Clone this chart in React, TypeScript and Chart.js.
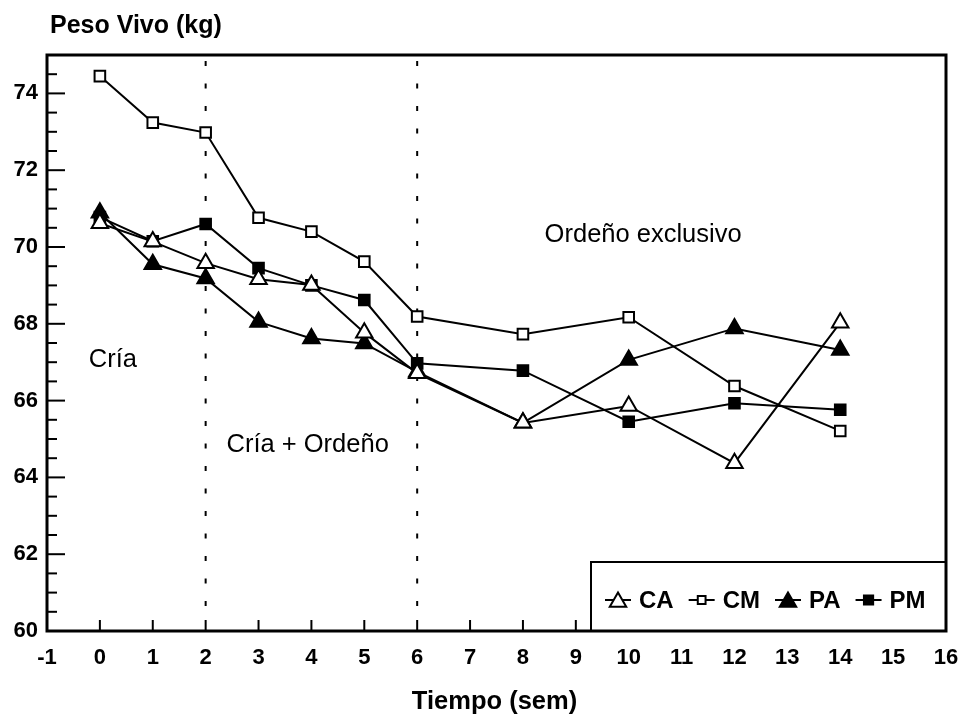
import React, { useEffect, useRef } from 'react';
import { Chart, registerables } from 'chart.js';

Chart.register(...registerables);

// ---- data ----
const weeks = [0, 1, 2, 3, 4, 5, 6, 8, 10, 12, 14];
const seriesNames = ['CA', 'CM', 'PA', 'PM'];
const caValues = [70.62, 70.14, 69.58, 69.16, 69.01, 67.77, 66.71, 65.42, 65.86, 64.37, 68.03];
const cmValues = [74.45, 73.24, 72.98, 70.76, 70.4, 69.62, 68.19, 67.73, 68.17, 66.38, 65.21];
const paValues = [70.89, 69.55, 69.18, 68.05, 67.62, 67.49, 66.75, 65.42, 67.06, 67.88, 67.32];
const pmValues = [70.78, 70.15, 70.6, 69.45, 69.0, 68.62, 66.97, 66.78, 65.45, 65.93, 65.76];
const xTickValues = [-1, 0, 1, 2, 3, 4, 5, 6, 7, 8, 9, 10, 11, 12, 13, 14, 15, 16];
const yTickValues = [60, 62, 64, 66, 68, 70, 72, 74];
const phaseLines = [2, 6];
const annotationTexts = ['Cría', 'Cría + Ordeño', 'Ordeño exclusivo'];
const annotationX = [-0.21, 2.395, 8.41];
const annotationY = [67.06, 64.84, 70.31];
const yTitle = 'Peso Vivo (kg)';
const xTitle = 'Tiempo (sem)';

const FONT = '"Liberation Sans", Arial, Helvetica, sans-serif';

const valuesBySeries = [caValues, cmValues, paValues, pmValues];
const styleBySeries = [
  { pointStyle: 'triangle', fill: '#ffffff', radius: 9.5, legendRadius: 9.5 },
  { pointStyle: 'rect', fill: '#ffffff', radius: 7.5, legendRadius: 5.5 },
  { pointStyle: 'triangle', fill: '#000000', radius: 9.5, legendRadius: 9.5 },
  { pointStyle: 'rect', fill: '#000000', radius: 7.5, legendRadius: 6.5 },
];

function drawMarker(ctx: CanvasRenderingContext2D, style: string, fill: string, r: number, cx: number, cy: number) {
  ctx.beginPath();
  if (style === 'triangle') {
    ctx.moveTo(cx, cy - r);
    ctx.lineTo(cx + r * Math.sin((2 * Math.PI) / 3), cy + r / 2);
    ctx.lineTo(cx - r * Math.sin((2 * Math.PI) / 3), cy + r / 2);
    ctx.closePath();
  } else {
    const s = r * Math.SQRT1_2;
    ctx.rect(cx - s, cy - s, 2 * s, 2 * s);
  }
  ctx.fillStyle = fill;
  ctx.fill();
  ctx.lineWidth = 2;
  ctx.strokeStyle = '#000';
  ctx.stroke();
}

const decorPlugin = {
  id: 'decor',
  beforeDatasetsDraw(chart: any) {
    const { ctx, chartArea, scales } = chart;
    const { top, bottom } = chartArea;
    const xs = scales.x;
    const ys = scales.y;
    ctx.save();
    ctx.strokeStyle = '#000';
    ctx.lineWidth = 2;
    ctx.setLineDash([5, 17.5]);
    phaseLines.forEach((v) => {
      const px = xs.getPixelForValue(v);
      ctx.beginPath();
      ctx.moveTo(px, bottom - 25);
      ctx.lineTo(px, top);
      ctx.stroke();
    });
    ctx.setLineDash([]);
    ctx.fillStyle = '#000';
    ctx.font = `25.5px ${FONT}`;
    ctx.textAlign = 'left';
    ctx.textBaseline = 'middle';
    annotationTexts.forEach((t, i) => {
      ctx.fillText(t, xs.getPixelForValue(annotationX[i]), ys.getPixelForValue(annotationY[i]));
    });
    ctx.restore();
  },
  afterDraw(chart: any) {
    const { ctx, chartArea, scales } = chart;
    const { left, right, top, bottom } = chartArea;
    const xs = scales.x;
    const ys = scales.y;
    ctx.save();
    ctx.strokeStyle = '#000';
    ctx.setLineDash([]);

    // x ticks (inward)
    ctx.lineWidth = 2;
    for (let v = xs.min + 1; v < xs.max; v += 1) {
      const px = xs.getPixelForValue(v);
      ctx.beginPath();
      ctx.moveTo(px, bottom);
      ctx.lineTo(px, bottom - 11);
      ctx.stroke();
    }
    // y ticks (inward), major every 2, minor every 0.5
    for (let v = ys.min + 0.5; v < ys.max; v += 0.5) {
      const py = ys.getPixelForValue(v);
      const major = yTickValues.includes(v);
      ctx.beginPath();
      ctx.moveTo(left, py);
      ctx.lineTo(left + (major ? 18 : 10), py);
      ctx.stroke();
    }

    // legend box
    const bx = right - 355;
    const by = bottom - 69;
    ctx.fillStyle = '#fff';
    ctx.fillRect(bx, by, right - bx, bottom - by);
    ctx.lineWidth = 2;
    ctx.strokeRect(bx, by, right - bx, bottom - by);
    const ly = by + 38;
    let cx = bx + 27;
    ctx.font = `bold 24px ${FONT}`;
    ctx.textAlign = 'left';
    ctx.textBaseline = 'middle';
    seriesNames.forEach((name, i) => {
      const st = styleBySeries[i];
      ctx.lineWidth = 2;
      ctx.strokeStyle = '#000';
      ctx.beginPath();
      ctx.moveTo(cx - 13, ly);
      ctx.lineTo(cx + 13, ly);
      ctx.stroke();
      drawMarker(ctx, st.pointStyle, st.fill, st.legendRadius, cx, ly + (st.pointStyle === 'triangle' ? 2 : 0));
      ctx.fillStyle = '#000';
      const tx = cx + 21;
      ctx.fillText(name, tx, ly + 1);
      cx = tx + ctx.measureText(name).width + 28;
    });

    // frame
    ctx.lineWidth = 3;
    ctx.strokeStyle = '#000';
    ctx.strokeRect(left, top, right - left, bottom - top);

    // titles
    ctx.fillStyle = '#000';
    ctx.font = `bold 25px ${FONT}`;
    ctx.textAlign = 'left';
    ctx.textBaseline = 'middle';
    ctx.fillText(yTitle, left + 3, 26);
    ctx.textAlign = 'center';
    ctx.font = `bold 25.5px ${FONT}`;
    ctx.fillText(xTitle, (left + right) / 2 - 2, 702);
    ctx.restore();
  },
};

export default function App() {
  const canvasRef = useRef<HTMLCanvasElement | null>(null);

  useEffect(() => {
    const canvas = canvasRef.current;
    if (!canvas) return;
    const datasets = seriesNames.map((name, i) => {
      const st = styleBySeries[i];
      return {
        label: name,
        data: weeks.map((w, j) => ({ x: w, y: valuesBySeries[i][j] })),
        borderColor: '#000',
        borderWidth: 2,
        backgroundColor: st.fill,
        pointStyle: st.pointStyle,
        pointRadius: st.radius,
        pointBackgroundColor: st.fill,
        pointBorderColor: '#000',
        pointBorderWidth: 2,
        tension: 0,
        fill: false,
      };
    });

    const chart = new Chart(canvas, {
      type: 'line',
      data: { datasets } as any,
      options: {
        responsive: false,
        animation: false,
        devicePixelRatio: 1,
        layout: { padding: { top: 55, right: 20, left: 0, bottom: 0 }, autoPadding: false } as any,
        plugins: { legend: { display: false }, tooltip: { enabled: false }, title: { display: false } },
        scales: {
          x: {
            type: 'linear',
            min: -1,
            max: 16,
            grid: { display: false, drawTicks: false },
            border: { display: false },
            afterBuildTicks: (s: any) => {
              s.ticks = xTickValues.map((v) => ({ value: v }));
            },
            afterFit: (s: any) => {
              s.height = 86;
              s.paddingLeft = 0;
              s.paddingRight = 0;
            },
            ticks: {
              autoSkip: false,
              maxRotation: 0,
              padding: 14,
              color: '#000',
              font: { family: FONT, size: 22, weight: 'bold' },
              callback: (v: any) => String(v),
            },
          },
          y: {
            type: 'linear',
            min: 60,
            max: 75,
            grid: { display: false, drawTicks: false },
            border: { display: false },
            afterBuildTicks: (s: any) => {
              s.ticks = yTickValues.map((v) => ({ value: v }));
            },
            afterFit: (s: any) => {
              s.width = 47;
              s.paddingTop = 0;
              s.paddingBottom = 0;
            },
            ticks: {
              padding: 9,
              color: '#000',
              font: { family: FONT, size: 22, weight: 'bold' },
              callback: (v: any) => String(v),
            },
          },
        } as any,
      },
      plugins: [decorPlugin as any],
    });
    return () => chart.destroy();
  }, []);

  return (
    <div style={{ position: 'fixed', left: 0, top: 0, width: 966, height: 717, background: '#fff' }}>
      <canvas ref={canvasRef} width={966} height={717} style={{ display: 'block', width: 966, height: 717 }} />
    </div>
  );
}
